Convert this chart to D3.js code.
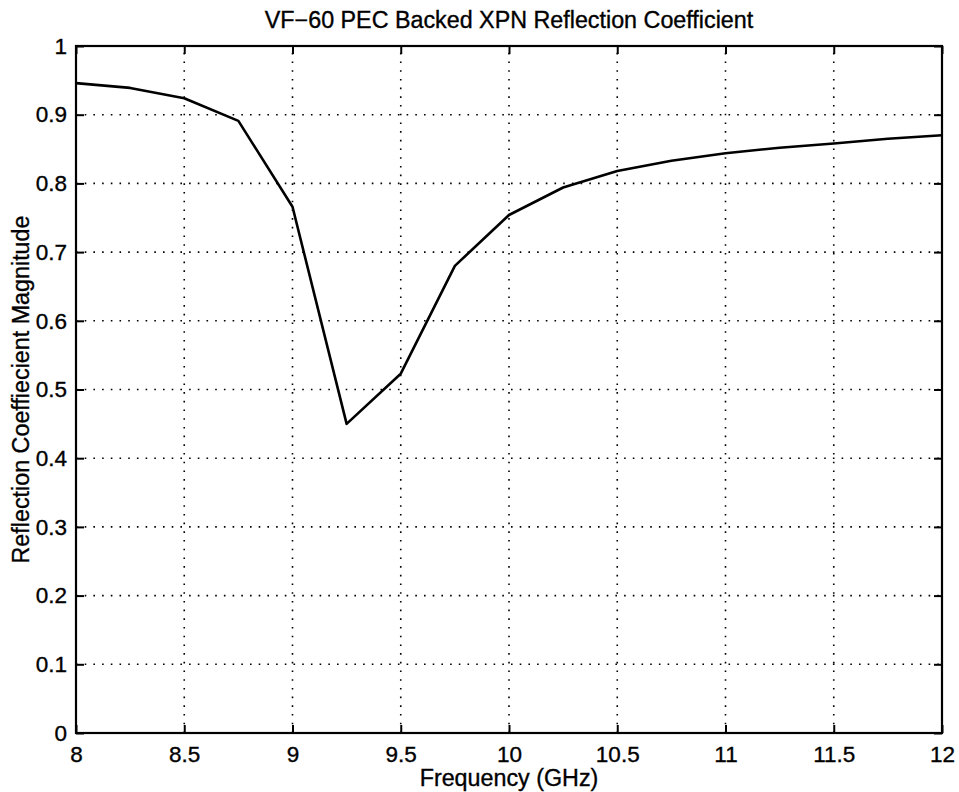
<!DOCTYPE html>
<html>
<head>
<meta charset="utf-8">
<script src="https://cdn.jsdelivr.net/npm/d3@7"></script>
<style>
  html, body { margin: 0; padding: 0; background: #fff; }
  svg { display: block; }
  text { font-family: "Liberation Sans", Arial, Helvetica, sans-serif; fill: #000; stroke: #000; stroke-width: 0.35px; }
</style>
</head>
<body>
<svg id="chart" width="959" height="792"></svg>
<script>
// ---- data ----
const frequency = [8, 8.25, 8.5, 8.75, 9, 9.25, 9.5, 9.75, 10, 10.25, 10.5, 10.75, 11, 11.25, 11.5, 11.75, 12];
const magnitude = [0.946, 0.939, 0.924, 0.891, 0.766, 0.450, 0.523, 0.680, 0.754, 0.794, 0.818, 0.833, 0.844, 0.852, 0.858, 0.865, 0.870];
const xTicks = [8, 8.5, 9, 9.5, 10, 10.5, 11, 11.5, 12];
const yTicks = [0, 0.1, 0.2, 0.3, 0.4, 0.5, 0.6, 0.7, 0.8, 0.9, 1];
const titleText = "VF\u221260 PEC Backed XPN Reflection Coefficient";
const xLabelText = "Frequency (GHz)";
const yLabelText = "Reflection Coeffiecient Magnitude";

// ---- layout ----
const L = 76, R = 942, T = 46, B = 733;
const svg = d3.select("#chart");
const x = d3.scaleLinear().domain([8, 12]).range([L, R]);
const y = d3.scaleLinear().domain([0, 1]).range([B, T]);

// grid
const grid = svg.append("g")
  .attr("stroke", "#000").attr("stroke-width", 1.6)
  .attr("stroke-dasharray", "1.6,7.1").attr("fill", "none");
grid.selectAll(".gx").data(xTicks.slice(1, -1)).join("line")
  .attr("x1", d => x(d)).attr("x2", d => x(d)).attr("y1", B).attr("y2", T);
grid.selectAll(".gy").data(yTicks.slice(1, -1)).join("line")
  .attr("y1", d => y(d)).attr("y2", d => y(d)).attr("x1", L).attr("x2", R);

// axes (ticks inward)
const tickLen = 8;
const fs = 22.5;
const xAxisB = svg.append("g").attr("transform", `translate(0,${B})`)
  .call(d3.axisBottom(x).tickValues(xTicks).tickSizeInner(-tickLen).tickSizeOuter(0).tickPadding(14).tickFormat(d3.format("")));
const xAxisT = svg.append("g").attr("transform", `translate(0,${T})`)
  .call(d3.axisTop(x).tickValues(xTicks).tickSizeInner(-tickLen).tickSizeOuter(0).tickFormat(""));
const yAxisL = svg.append("g").attr("transform", `translate(${L},0)`)
  .call(d3.axisLeft(y).tickValues(yTicks).tickSizeInner(-tickLen).tickSizeOuter(0).tickPadding(17).tickFormat(d3.format("")));
const yAxisR = svg.append("g").attr("transform", `translate(${R},0)`)
  .call(d3.axisRight(y).tickValues(yTicks).tickSizeInner(-tickLen).tickSizeOuter(0).tickFormat(""));

[xAxisB, xAxisT, yAxisL, yAxisR].forEach(g => {
  g.select(".domain").remove();
  g.selectAll(".tick line").attr("stroke", "#000").attr("stroke-width", 2);
  g.selectAll("text").attr("font-size", fs).attr("font-family", null).attr("fill", "#000");
});
xAxisB.selectAll("text").attr("dy", "0.71em").attr("y", 13);
yAxisL.selectAll("text").attr("x", -9);

// box
svg.append("rect").attr("x", L).attr("y", T).attr("width", R - L).attr("height", B - T)
  .attr("fill", "none").attr("stroke", "#000").attr("stroke-width", 2.2);

// line
const line = d3.line().x((d, i) => x(frequency[i])).y(d => y(d));
svg.append("path").datum(magnitude)
  .attr("d", line).attr("fill", "none").attr("stroke", "#000")
  .attr("stroke-width", 2.6).attr("stroke-linejoin", "round");

// labels
svg.append("text").attr("x", (L + R) / 2).attr("y", 28).attr("text-anchor", "middle")
  .attr("font-size", 23.3).text(titleText);
svg.append("text").attr("x", (L + R) / 2).attr("y", 786).attr("text-anchor", "middle")
  .attr("font-size", 23.3).text(xLabelText);
svg.append("text").attr("transform", `translate(29,${(T + B) / 2}) rotate(-90)`)
  .attr("text-anchor", "middle").attr("font-size", 23.3).text(yLabelText);
</script>
</body>
</html>
